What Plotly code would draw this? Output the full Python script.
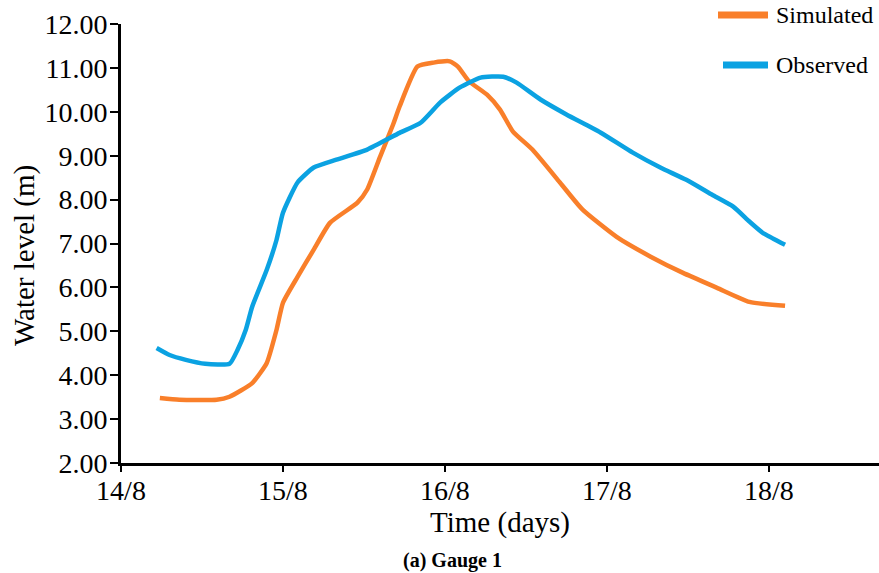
import plotly.graph_objects as go

# time in days (day of August, fractional)
obs_t = [14.22, 14.30, 14.40, 14.52, 14.67, 14.72, 14.77, 14.81, 14.90, 14.96, 15.00, 15.09,
         15.19, 15.33, 15.52, 15.72, 15.85, 15.97, 16.09, 16.22, 16.36, 16.44, 16.59, 16.75,
         16.96, 17.16, 17.33, 17.49, 17.65, 17.78, 17.88, 17.96, 18.10]
obs_v = [4.62, 4.46, 4.35, 4.26, 4.26, 4.58, 5.03, 5.56, 6.40, 7.08, 7.70, 8.39,
         8.73, 8.91, 9.14, 9.52, 9.75, 10.21, 10.55, 10.78, 10.80, 10.67, 10.28, 9.94,
         9.53, 9.07, 8.73, 8.45, 8.11, 7.84, 7.50, 7.25, 6.97]

sim_t = [14.24, 14.36, 14.59, 14.67, 14.81, 14.90, 14.96, 15.00, 15.09, 15.19, 15.29, 15.46,
         15.52, 15.60, 15.68, 15.72, 15.83, 15.93, 16.03, 16.08, 16.15, 16.26, 16.34, 16.42,
         16.54, 16.71, 16.85, 17.06, 17.27, 17.47, 17.68, 17.88, 18.10]
sim_v = [3.48, 3.44, 3.44, 3.51, 3.82, 4.28, 5.03, 5.65, 6.24, 6.86, 7.47, 7.93,
         8.23, 8.98, 9.71, 10.12, 11.03, 11.12, 11.15, 11.03, 10.69, 10.39, 10.05, 9.55,
         9.14, 8.39, 7.77, 7.15, 6.70, 6.33, 5.99, 5.67, 5.58]

x_ticks = [14, 15, 16, 17, 18]
x_ticktext = ["14/8", "15/8", "16/8", "17/8", "18/8"]
y_ticks = [2, 3, 4, 5, 6, 7, 8, 9, 10, 11, 12]
y_ticktext = ["%.2f" % v for v in y_ticks]
series_names = ["Simulated", "Observed"]

FONT = "Liberation Serif, Times New Roman, serif"
ORANGE = "#F97F2A"
BLUE = "#0BA2E2"
COLORS = [ORANGE, BLUE]

L, T, PW, PH = 121, 24, 758, 439


def px(x):
    return (x - L) / PW


def py(y):
    return (T + PH - y) / PH


fig = go.Figure()
for name, t, v, c in zip(series_names, [sim_t, obs_t], [sim_v, obs_v], COLORS):
    fig.add_trace(go.Scatter(x=t, y=v, mode="lines", name=name, showlegend=False,
                             line=dict(color=c, width=4.5, shape="spline", smoothing=0.5)))

# legend drawn as key lines + labels
shapes = []
annotations = []
leg_rows = [(718, 15), (723, 65)]
for (x0, yrow), name, c in zip(leg_rows, series_names, COLORS):
    shapes.append(dict(type="line", xref="paper", yref="paper",
                       x0=px(x0), x1=px(768), y0=py(yrow), y1=py(yrow),
                       line=dict(color=c, width=7)))
    annotations.append(dict(text=name, xref="paper", yref="paper", x=px(774), y=py(yrow),
                            xanchor="left", yanchor="middle", showarrow=False,
                            font=dict(size=24, family=FONT)))

annotations.append(dict(text="Water level (m)", xref="paper", yref="paper",
                        x=px(24), y=py(256), xanchor="center", yanchor="middle",
                        textangle=-90, showarrow=False, font=dict(size=29, family=FONT)))
annotations.append(dict(text="<b>(a) Gauge 1</b>", xref="paper", yref="paper",
                        x=px(452), y=py(560), xanchor="center", yanchor="middle",
                        showarrow=False, font=dict(size=20, family=FONT)))

fig.update_layout(
    width=879, height=573,
    margin=dict(l=L, r=879 - L - PW, t=T, b=573 - T - PH, autoexpand=False),
    paper_bgcolor="white", plot_bgcolor="white",
    font=dict(family=FONT, color="black"),
    showlegend=False,
    xaxis=dict(range=[14, 18.68], tickvals=x_ticks, ticktext=x_ticktext,
               showline=True, linecolor="black", linewidth=3, showgrid=False, zeroline=False,
               ticks="outside", ticklen=6, tickwidth=2, tickcolor="black",
               ticklabelstandoff=-6,
               tickfont=dict(size=28, family=FONT),
               title=dict(text="Time (days)", font=dict(size=29, family=FONT), standoff=6)),
    yaxis=dict(range=[2, 12], tickvals=y_ticks, ticktext=y_ticktext,
               showline=True, linecolor="black", linewidth=3, showgrid=False, zeroline=False,
               ticks="outside", ticklen=8, tickwidth=2, tickcolor="black",
               ticklabelstandoff=-3,
               tickfont=dict(size=28, family=FONT)),
    shapes=shapes,
    annotations=annotations,
)

fig.write_html("out.html", config={"displayModeBar": False},
               post_script="document.body.style.margin='0';")
